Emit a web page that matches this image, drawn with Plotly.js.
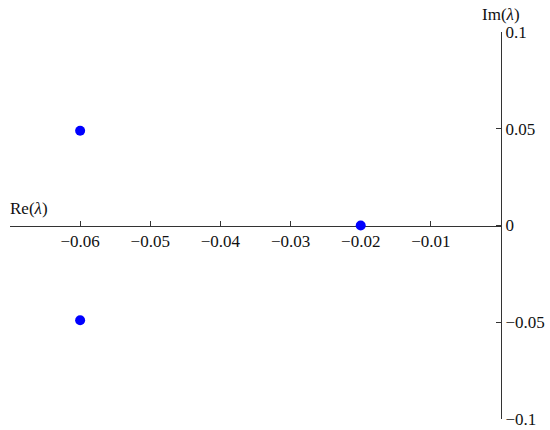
<!DOCTYPE html>
<html>
<head>
<meta charset="utf-8">
<script src="https://cdn.plot.ly/plotly-3.0.1.min.js"></script>
<style>html,body{margin:0;padding:0;background:#fff;}#chart{width:550px;height:430px;}</style>
</head>
<body>
<div id="chart"></div>
<script>
// Eigenvalues (real part, imaginary part)
const reParts = [-0.06, -0.06, -0.02];
const imParts = [0.049, -0.049, 0];

// Tick values and labels
const xTickVals = [-0.07, -0.06, -0.05, -0.04, -0.03, -0.02, -0.01, 0];
const xTickText = ['', '\u22120.06', '\u22120.05', '\u22120.04', '\u22120.03', '\u22120.02', '\u22120.01', ''];
const yTickVals = [-0.1, -0.05, 0, 0.05, 0.1];
const yTickText = ['\u22120.1', '\u22120.05', '0', '0.05', '0.1'];

const font = {family: '"Liberation Serif", "DejaVu Serif", serif', size: 17, color: '#111'};

const trace = {
  x: reParts, y: imParts, mode: 'markers', type: 'scatter',
  marker: {color: '#0000ff', size: 10, line: {width: 0}},
  cliponaxis: false, hoverinfo: 'skip'
};

const layout = {
  width: 550, height: 430,
  margin: {l: 10, r: 49, t: 32, b: 11},
  paper_bgcolor: '#fff', plot_bgcolor: '#fff',
  showlegend: false,
  font: font,
  xaxis: {
    range: [-0.07, 0], showgrid: false, zeroline: false,
    showline: true, linecolor: '#333', linewidth: 1,
    anchor: 'free', position: 0.5, layer: 'below traces',
    ticks: 'inside', ticklen: 5, tickcolor: '#333',
    tickvals: xTickVals, ticktext: xTickText,
    tickfont: font, fixedrange: true
  },
  yaxis: {
    range: [-0.1, 0.1], showgrid: false, zeroline: false,
    showline: true, linecolor: '#333', linewidth: 1,
    side: 'right', layer: 'below traces',
    ticks: 'inside', ticklen: 5, tickcolor: '#333',
    tickvals: yTickVals, ticktext: yTickText,
    tickfont: font, fixedrange: true
  },
  annotations: [
    {text: 'Re(<i>λ</i>)', xref: 'paper', yref: 'y', x: 0, y: 0, xanchor: 'left', yanchor: 'bottom', yshift: 6, xshift: -2, showarrow: false, font: {family: font.family, size: 17, color: '#111'}},
    {text: 'Im(<i>λ</i>)', xref: 'x', yref: 'paper', x: 0, y: 1, xanchor: 'center', yanchor: 'bottom', yshift: 6, xshift: 0, showarrow: false, font: {family: font.family, size: 17, color: '#111'}}
  ]
};

Plotly.newPlot('chart', [trace], layout, {displayModeBar: false, staticPlot: true});
</script>
</body>
</html>
